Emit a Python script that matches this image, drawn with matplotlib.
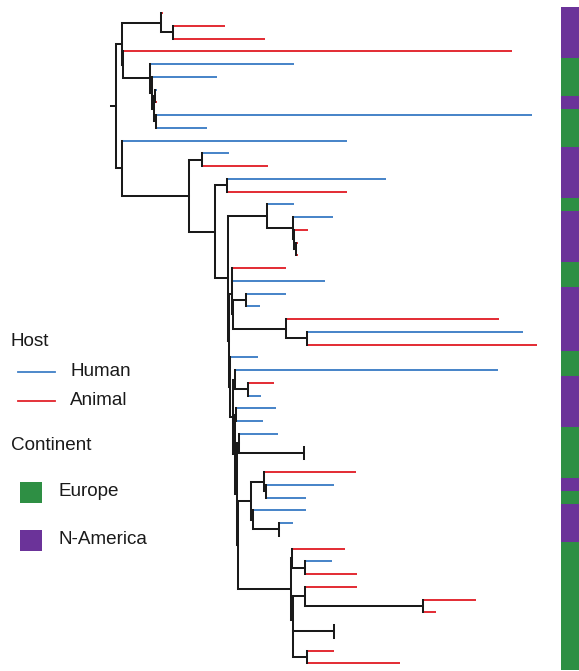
import re
import numpy as np
import matplotlib
matplotlib.use("Agg")
import matplotlib.pyplot as plt
from matplotlib.collections import LineCollection
from matplotlib.lines import Line2D
from matplotlib.patches import Rectangle

# tree with branch lengths (substitutions / site)
newick = (
    "(((t00:0.002,(t01:0.0523,t02:0.0923):0.0117):0.0393,"
    "(t03:0.3893,(t04:0.144,(t05:0.065,((t06:0.002,t07:0.002):0.001,"
    "(t08:0.3765,t09:0.0515):0.0015):0.002):0.002):0.0273):0.001):0.0057,"
    "(t10:0.2253,((t11:0.0273,t12:0.0663):0.0127,"
    "((t13:0.1587,t14:0.1197):0.0123,"
    "((t15:0.0273,(t16:0.0403,(t17:0.0143,(t18:0.0023,t19:0.0023):0.002):0.001):0.026):0.039,"
    "(((t20:0.0537,t21:0.0927):0.0006,((t22:0.04,t23:0.014):0.0127,"
    "(t24:0.213,(t25:0.216,t26:0.23):0.021):0.0527):0.0016):0.0027,"
    "(t27:0.028,((t28:0.2633,(t29:0.0257,t30:0.0127):0.0136):0.0014,"
    "((t31:0.0397,t32:0.0267):0.0008,((t33:0.0393,(t34:0,t35:0):0.0653):0.0019,"
    "(((t36:0.092,(t37:0.068,t38:0.04):0.002):0.013,(t39:0.0533,(t40:0.0137,t41:0.0007):0.0266):0.0017):0.0132,"
    "((t42:0.0533,(t43:0.0267,t44:0.0517):0.0136):0.001,((t45:0.0517,(t46:0.0527,t47:0.0127):0.118):0.0126,"
    "((t48:0,t49:0):0.0404,(t50:0.0267,t51:0.0927):0.014):0.0006):0.002):0.0529):0.001):0.0013):0.0022):0.0033):0.001"
    "):0.0013):0.0127):0.026):0.0673):0.0057):0.005;"
)

# host of each tip, top to bottom
host = ["Animal", "Animal", "Animal", "Animal", "Human", "Human", "Human", "Animal",
        "Human", "Human", "Human", "Human", "Animal", "Human", "Animal", "Human",
        "Human", "Animal", "Animal", "Animal", "Animal", "Human", "Human", "Human",
        "Animal", "Human", "Animal", "Human", "Human", "Animal", "Human", "Human",
        "Human", "Human", "Animal", "Animal", "Animal", "Human", "Human", "Human",
        "Human", "Human", "Animal", "Human", "Animal", "Animal", "Animal", "Animal",
        "Animal", "Animal", "Animal", "Animal"]

continent_runs = [("N-America", 4), ("Europe", 3), ("N-America", 1), ("Europe", 3),
                  ("N-America", 4), ("Europe", 1), ("N-America", 4), ("Europe", 2),
                  ("N-America", 5), ("Europe", 2), ("N-America", 4), ("Europe", 4),
                  ("N-America", 1), ("Europe", 1), ("N-America", 3), ("Europe", 10)]
continent = [c for c, n in continent_runs for _ in range(n)]

host_colors = {"Human": "#3f7fc6", "Animal": "#e2232b"}
cont_colors = {"Europe": "#2e8f44", "N-America": "#6b3399"}


def parse(s):
    # minimal newick parser -> nested dicts
    tokens = re.findall(r"[(),;]|[^(),;]+", s)
    pos = 0

    def node():
        nonlocal pos
        n = {"children": [], "name": None, "len": 0.0}
        if tokens[pos] == "(":
            pos += 1
            n["children"].append(node())
            while tokens[pos] == ",":
                pos += 1
                n["children"].append(node())
            pos += 1  # ')'
        if tokens[pos] not in "(),;":
            lab = tokens[pos]
            pos += 1
            name, _, bl = lab.partition(":")
            n["name"] = name or None
            n["len"] = float(bl) if bl else 0.0
        return n

    return node()


root = parse(newick)
tip_count = [0]


def layout(n, x0):
    n["x0"] = x0
    n["x"] = x0 + n["len"]
    if not n["children"]:
        n["y"] = tip_count[0]
        tip_count[0] += 1
    else:
        for c in n["children"]:
            layout(c, n["x"])
        n["y"] = np.mean([c["y"] for c in n["children"]])


layout(root, -root["len"])

black_segs, tip_segs, tip_cols = [], [], []


def collect(n):
    if n["children"]:
        black_segs.append([(n["x0"], n["y"]), (n["x"], n["y"])])
        ys = [c["y"] for c in n["children"]]
        black_segs.append([(n["x"], min(ys)), (n["x"], max(ys))])
        for c in n["children"]:
            collect(c)
    else:
        tip_segs.append([(n["x0"], n["y"]), (n["x"], n["y"])])
        tip_cols.append(host_colors[host[n["y"]]])


collect(root)

fig = plt.figure(figsize=(5.79, 6.71), dpi=100)
ax = fig.add_axes([0, 0, 1, 1])
ax.set_xlim(-0.116, 0.463)
ax.set_ylim((671 - 13) / 12.75, -13 / 12.75)
ax.axis("off")

ax.add_collection(LineCollection(tip_segs, colors=tip_cols, linewidths=1.35, capstyle="butt"))
ax.add_collection(LineCollection(black_segs, colors="#1a1a1a", linewidths=1.45, capstyle="projecting"))

ntip = len(continent)
ax.barh(np.arange(ntip), 0.018, left=0.445, height=1.0,
        color=[cont_colors[c] for c in continent], linewidth=0)

# legend
W, H = 579.0, 671.0
fx = lambda px: px / W
fy = lambda py: 1 - py / H
txt = dict(fontsize=13.6, family="Liberation Sans", color="#1a1a1a", va="center")
fig.text(fx(11), fy(341), "Host", **txt)
for lab, yy in [("Human", 371.5), ("Animal", 400.5)]:
    fig.add_artist(Line2D([fx(18), fx(55)], [fy(yy), fy(yy)], color=host_colors[lab], lw=1.3))
    fig.text(fx(70), fy(yy), lab, **txt)
fig.text(fx(11), fy(445), "Continent", **txt)
for lab, yy in [("Europe", 492), ("N-America", 540)]:
    fig.add_artist(Rectangle((fx(20), fy(yy + 10.5)), 22 / W, 21 / H,
                             color=cont_colors[lab], transform=fig.transFigure, lw=0))
    fig.text(fx(59), fy(yy), lab, **txt)

fig.savefig("out.png", dpi=100)
